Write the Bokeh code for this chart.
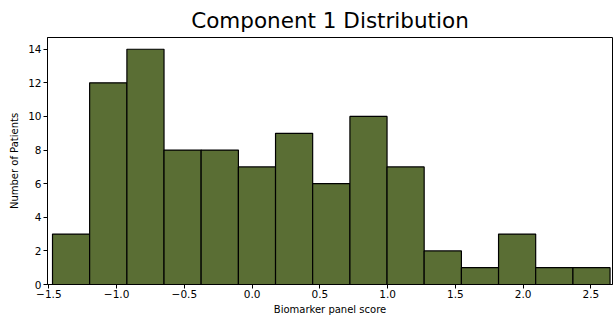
from bokeh.plotting import figure
from bokeh.models import Range1d, FixedTicker
from bokeh.embed import file_html
from bokeh.resources import INLINE

bin_edges = [-1.473, -1.199, -0.924, -0.650, -0.376, -0.101, 0.173, 0.447,
             0.722, 0.996, 1.270, 1.545, 1.819, 2.093, 2.368, 2.642]
counts = [3, 12, 14, 8, 8, 7, 9, 6, 10, 7, 2, 1, 3, 1, 1]
x_ticks = [-1.5, -1.0, -0.5, 0.0, 0.5, 1.0, 1.5, 2.0, 2.5]
y_ticks = [0, 2, 4, 6, 8, 10, 12, 14]

FONT = "DejaVu Sans"

p = figure(width=613, height=318, output_backend="svg", toolbar_location=None,
           x_range=Range1d(-1.51, 2.66), y_range=Range1d(0, 14.7),
           min_border_left=47, min_border_right=1, min_border_top=36,
           min_border_bottom=34, title="Component 1 Distribution")

p.quad(left=bin_edges[:-1], right=bin_edges[1:], bottom=0, top=counts,
       fill_color="#5A6E34", fill_alpha=1.0, line_color="black", line_width=1.2)

p.title.text_font = FONT
p.title.text_font_size = "21.5px"
p.title.text_font_style = "normal"
p.title.align = "center"
p.title.text_color = "black"

p.xgrid.visible = False
p.ygrid.visible = False
p.outline_line_color = "black"
p.outline_line_width = 1
p.outline_line_alpha = 1

for ax, ticks, lbl in ((p.xaxis[0], x_ticks, "Biomarker panel score"),
                       (p.yaxis[0], y_ticks, "Number of Patients")):
    ax.ticker = FixedTicker(ticks=ticks)
    ax.axis_label = lbl
    ax.axis_label_text_font = FONT
    ax.axis_label_text_font_size = "10px"
    ax.axis_label_text_font_style = "normal"
    ax.axis_label_text_color = "black"
    ax.major_label_text_font = FONT
    ax.major_label_text_font_size = "10.5px"
    ax.major_label_text_color = "black"
    ax.major_tick_out = 4
    ax.major_tick_in = 0
    ax.minor_tick_out = 0
    ax.minor_tick_in = 0
    ax.axis_line_color = "black"
    ax.major_tick_line_color = "black"
    ax.axis_label_standoff = 3
    ax.major_label_standoff = 2

p.yaxis[0].axis_label_standoff = 5
p.xaxis[0].major_label_standoff = 1

p.xaxis[0].major_label_overrides = {-1.5: "\u22121.5", -1.0: "\u22121.0", -0.5: "\u22120.5",
                                    0.0: "0.0", 0.5: "0.5", 1.0: "1.0", 1.5: "1.5",
                                    2.0: "2.0", 2.5: "2.5"}

open("out.html", "w").write(file_html(p, INLINE))
